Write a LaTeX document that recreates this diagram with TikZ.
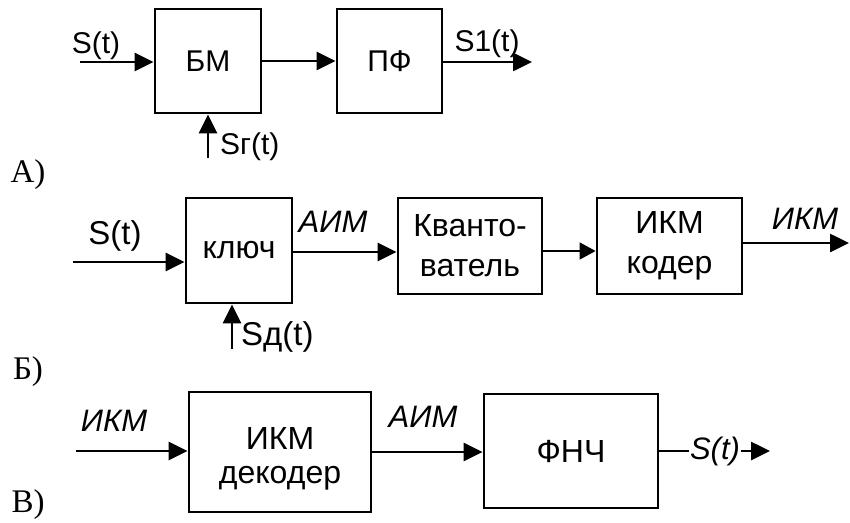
\documentclass[tikz,border=0pt]{standalone}
\usepackage{fontspec}
\setmainfont{Liberation Serif}
\setsansfont{Liberation Sans}
\usetikzlibrary{arrows.meta}
\newcommand{\fsz}[2]{\fontsize{#1}{#2}\selectfont}

\begin{document}
\begin{tikzpicture}[x=1pt,y=-1pt,
    blok/.style={draw,line width=2.8pt,inner sep=0pt},
    lbl/.style={inner sep=1pt},
    strel/.style={-{Triangle[length=19pt,width=18pt]},line width=2.6pt},
    bukva/.style={font=\fsz{33}{36}}]
  \useasboundingbox (0,0) rectangle (850,522);

  % A)
  \node[blok,minimum width=106pt,minimum height=104pt,font=\sffamily\fsz{30}{34}] (bm) at (208,61) {БМ};
  \node[blok,minimum width=105pt,minimum height=104pt,font=\sffamily\fsz{30}{34}] (pf) at (389.5,61) {ПФ};
  \coordinate (a_in) at (80,62);
  \coordinate (a_out) at (532,62);
  \coordinate (a_sg) at (208,158);
  \node[lbl,font=\sffamily\fsz{30}{34}] (a_s) at (96,46) {S(t)};
  \node[lbl,font=\sffamily\fsz{30}{34}] (a_s1) at (487,44) {S1(t)};
  \node[lbl,anchor=west,font=\sffamily\fsz{30}{34}] (a_sgl) at (219,147) {Sг(t)};
  \node[bukva] (a_lit) at (28,175) {А)};

  % Б)
  \node[blok,minimum width=106pt,minimum height=105pt,font=\sffamily\fsz{32}{40}] (kl) at (239,250.5) {\raisebox{-11pt}{ключ}};
  \node[blok,minimum width=144pt,minimum height=96pt,align=center,font=\sffamily\fsz{32}{40}] (kv) at (470,246) {Кванто-\\ватель};
  \node[blok,minimum width=145pt,minimum height=96pt,align=center,font=\sffamily\fsz{32}{40}] (ik) at (669.5,246) {ИКМ\\кодер};
  \coordinate (b_in) at (73,262);
  \coordinate (b_aim) at (292,252);
  \coordinate (b_kv) at (542,251);
  \coordinate (b_out) at (849,243);
  \coordinate (b_sd) at (232,349);
  \node[lbl,font=\sffamily\fsz{33}{36}] (b_s) at (115,236) {S(t)};
  \node[lbl,anchor=west,font=\sffamily\fsz{33}{36}] (b_sdl) at (240,337) {Sд(t)};
  \node[lbl,font=\sffamily\itshape\fsz{31}{34}] (b_aiml) at (333,222) {АИМ};
  \node[lbl,font=\sffamily\itshape\fsz{31}{34}] (b_ikml) at (805,219) {ИКМ};
  \node[bukva] (b_lit) at (28,372) {Б)};

  % В)
  \node[blok,minimum width=182pt,minimum height=120pt] (dk) at (280,452) {};
  \node[align=center,font=\sffamily\fsz{32}{34}] (dk_t) at ([yshift=-6.5pt]dk.center) {ИКМ\\декодер};
  \node[blok,minimum width=174pt,minimum height=114pt,font=\sffamily\fsz{32}{34}] (fn) at (571,451) {ФНЧ};
  \coordinate (v_in) at (76,451);
  \coordinate (v_out) at (770,451);
  \node[lbl,font=\sffamily\itshape\fsz{31}{34}] (v_ikml) at (114,421) {ИКМ};
  \node[lbl,font=\sffamily\itshape\fsz{31}{34}] (v_aiml) at (423,417) {АИМ};
  \node[lbl,font=\sffamily\itshape\fsz{31}{34}] (v_s) at (715,451) {S(t)};
  \node[bukva] (v_lit) at (28,505) {В)};

  \begin{scope}[strel]
    \draw (a_in) -- (a_in -| bm.west);
    \draw (bm) -- (pf);
    \draw (pf.east |- a_out) -- (a_out);
    \draw (a_sg) -- (a_sg |- bm.south);
    \draw (b_in) -- (b_in -| kl.west);
    \draw (b_aim) -- (b_aim -| kv.west);
    \draw[line width=1.5pt,-{Triangle[length=16pt,width=17pt]}] (b_kv) -- (b_kv -| ik.west);
    \draw (b_out -| ik.east) -- (b_out);
    \draw (b_sd) -- (b_sd |- kl.south);
    \draw (v_in) -- (v_in -| dk.west);
    \draw (dk.east) -- (dk.east -| fn.west);
    \draw (v_s.east) -- (v_out);
  \end{scope}
  \draw[line width=2.6pt] (fn.east) -- (v_s.west);
\end{tikzpicture}
\end{document}
